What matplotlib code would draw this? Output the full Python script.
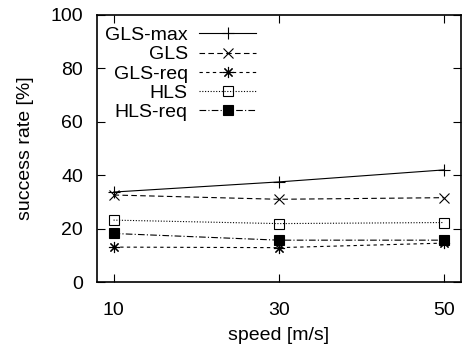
import matplotlib.pyplot as plt

speed = [10, 30, 50]
gls_max = [33.7, 37.5, 42.0]
gls = [32.6, 31.0, 31.6]
gls_req = [13.1, 12.9, 14.6]
hls = [23.2, 21.9, 22.3]
hls_req = [18.2, 15.7, 15.7]

plt.rcParams['font.family'] = ['Liberation Sans', 'DejaVu Sans']
plt.rcParams['font.size'] = 14

fig = plt.figure(figsize=(4.62, 3.47), dpi=100)
ax = fig.add_axes([0.21, 0.187, 0.787, 0.77])

lw = 0.8
ax.plot(speed, gls_max, color='black', lw=lw, linestyle='-', marker='+',
        markersize=8, markeredgewidth=0.8, label='GLS-max')
ax.plot(speed, gls, color='black', lw=lw, linestyle=(0, (5, 3)), marker='x',
        markersize=7, markeredgewidth=0.8, label='GLS')
ax.plot(speed, gls_req, color='black', lw=lw, linestyle=(0, (3, 3)), marker=(8, 2, 0),
        markersize=8, markeredgewidth=0.8, label='GLS-req')
ax.plot(speed, hls, color='black', lw=lw, linestyle=(0, (1, 1.5)), marker='s',
        markersize=7, markeredgewidth=0.8, markerfacecolor='none', label='HLS')
ax.plot(speed, hls_req, color='black', lw=lw, linestyle=(0, (6, 2, 1, 2)), marker='s',
        markersize=7, markeredgewidth=0.8, label='HLS-req')

ax.set_xlim(8, 52)
ax.set_ylim(0, 100)
ax.set_xticks(speed)
ax.set_yticks([0, 20, 40, 60, 80, 100])
ax.tick_params(direction='in', length=6, width=0.8, top=True, right=True, pad=10)
ax.tick_params(axis='x', pad=14)
for s in ax.spines.values():
    s.set_linewidth(1.2)

ax.set_xlabel('speed [m/s]', labelpad=6)
ax.set_ylabel('success rate [%]', labelpad=12)

ax.legend(loc='upper left', bbox_to_anchor=(-0.01, 1.0), frameon=False, markerfirst=False,
          handlelength=2.9, handletextpad=0.6, labelspacing=0.08, borderaxespad=0.2)

fig.savefig('out.png', dpi=100)
